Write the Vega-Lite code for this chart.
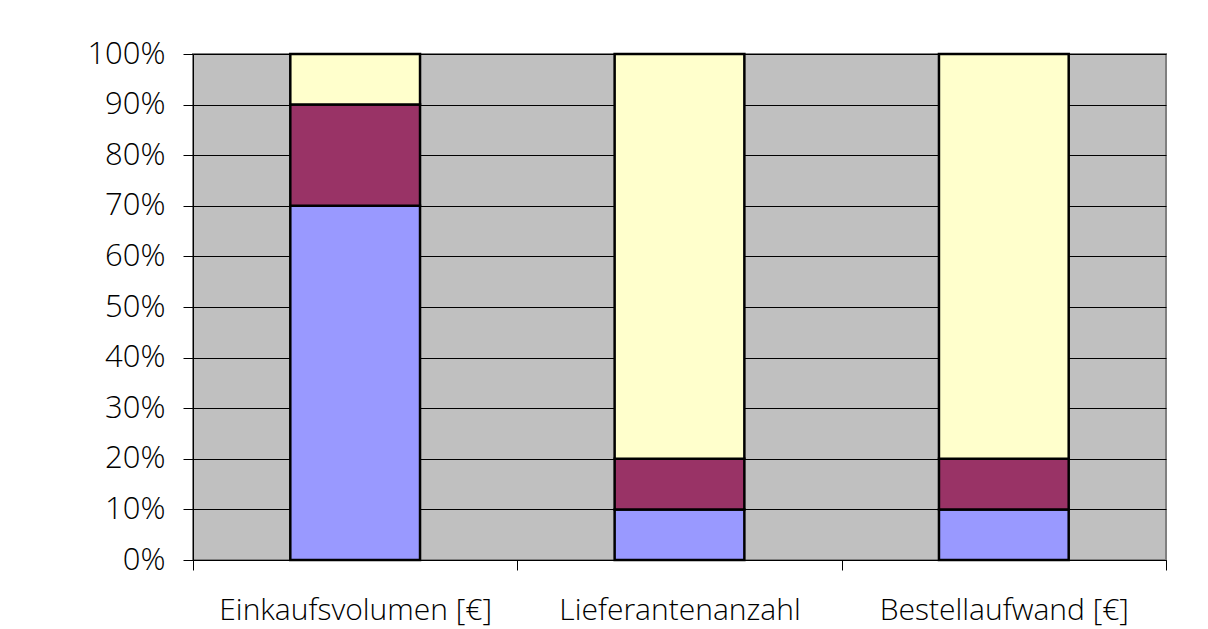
{
  "$schema": "https://vega.github.io/schema/vega-lite/v6.json",
  "width": 973,
  "height": 506,
  "autosize": {"type": "none"},
  "padding": {"left": 193, "top": 54, "right": 42, "bottom": 69},
  "background": "white",
  "config": {
    "view": {"fill": "#C0C0C0", "stroke": "#808080", "strokeWidth": 2},
    "font": "Open Sans"
  },
  "data": {
    "values": [
      {"kategorie": "Einkaufsvolumen [€]", "klasse": "A", "anteil": 0.7},
      {"kategorie": "Einkaufsvolumen [€]", "klasse": "B", "anteil": 0.2},
      {"kategorie": "Einkaufsvolumen [€]", "klasse": "C", "anteil": 0.1},
      {"kategorie": "Lieferantenanzahl", "klasse": "A", "anteil": 0.1},
      {"kategorie": "Lieferantenanzahl", "klasse": "B", "anteil": 0.1},
      {"kategorie": "Lieferantenanzahl", "klasse": "C", "anteil": 0.8},
      {"kategorie": "Bestellaufwand [€]", "klasse": "A", "anteil": 0.1},
      {"kategorie": "Bestellaufwand [€]", "klasse": "B", "anteil": 0.1},
      {"kategorie": "Bestellaufwand [€]", "klasse": "C", "anteil": 0.8}
    ]
  },
  "mark": {"type": "bar", "width": {"band": 0.4}, "stroke": "black", "strokeWidth": 2.5},
  "encoding": {
    "x": {
      "field": "kategorie",
      "type": "nominal",
      "sort": null,
      "scale": {"paddingInner": 0, "paddingOuter": 0},
      "axis": {
        "title": null,
        "labelAngle": 0,
        "labelFontSize": 30,
        "labelFontWeight": 300,
        "labelLimit": 0,
        "labelColor": "black",
        "labelPadding": 25,
        "tickBand": "extent",
        "tickSize": 10,
        "tickColor": "black",
        "domainColor": "black",
        "domainWidth": 1,
        "grid": false
      }
    },
    "y": {
      "field": "anteil",
      "type": "quantitative",
      "stack": "zero",
      "scale": {"domain": [0, 1], "nice": false},
      "axis": {
        "title": null,
        "format": ".0%",
        "values": [0, 0.1, 0.2, 0.3, 0.4, 0.5, 0.6, 0.7, 0.8, 0.9, 1],
        "labelFontSize": 31,
        "labelFontWeight": 300,
        "labelLimit": 0,
        "labelColor": "black",
        "labelPadding": 18,
        "tickSize": 10,
        "tickColor": "black",
        "domainColor": "black",
        "gridColor": "black",
        "gridOpacity": 1,
        "gridWidth": 1
      }
    },
    "color": {
      "field": "klasse",
      "type": "nominal",
      "scale": {"domain": ["A", "B", "C"], "range": ["#9999FF", "#993366", "#FFFFCC"]},
      "legend": null
    },
    "order": {"field": "klasse", "type": "nominal", "sort": "ascending"}
  }
}
